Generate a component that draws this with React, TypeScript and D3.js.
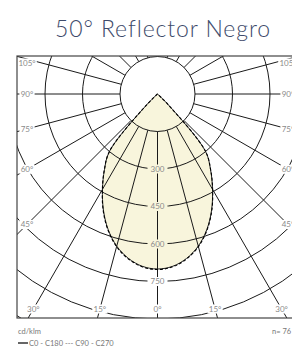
import React from "react";
import * as d3 from "d3";

const TITLE = "50° Reflector Negro";
const GAMMA = [0, 5, 10, 15, 20, 25, 30, 35, 40, 45, 50];
const C0_C180 = [700, 692, 668, 630, 577, 512, 440, 370, 298, 62, 0];
const C90_C270 = [702, 694, 670, 632, 579, 514, 441, 371, 298, 60, 0];
const RING_VALUES = [150, 300, 450, 600, 750, 900, 1050, 1200];
const RING_LABELS = [300, 450, 600, 750];
const RADIAL_ANGLES = d3.range(0, 360, 15);
const ANGLE_LABELS = [0, 15, 30, 45, 60, 75, 90, 105];
const UNIT = "cd/klm";
const N_LABEL = "n= 76";
const LEGEND = "C0 - C180 --- C90 - C270";

const W = 292, H = 351;
const CX = 157.5, CY = 94;
const FRAME = { x0: 17, y0: 56, x1: 306, y1: 318 };
const FILL = "#f8f5dc";
const GRID = "#1a1a1a";
const LABEL = "#8a8a8a";
const FONT = "Lato, 'Open Sans', sans-serif";

const r = d3.scaleLinear().domain([0, 750]).range([0, 187.5]);

function curvePath(vals: number[]) {
  const pts: [number, number][] = [];
  for (let i = GAMMA.length - 1; i >= 0; i--) pts.push([-GAMMA[i], vals[i]]);
  for (let i = 1; i < GAMMA.length; i++) pts.push([GAMMA[i], vals[i]]);
  const line = d3
    .lineRadial<[number, number]>()
    .angle((d) => Math.PI - (d[0] * Math.PI) / 180)
    .radius((d) => r(d[1]))
    .curve(d3.curveCatmullRom.alpha(0.5));
  return line(pts) as string;
}

function labelPos(gDeg: number) {
  const g = (gDeg * Math.PI) / 180;
  const dx = Math.sin(g), dy = Math.cos(g);
  let tx = Infinity, tb = Infinity;
  if (dx < -1e-6) tx = (27 - CX) / dx;
  else if (dx > 1e-6) tx = (288 - CX) / dx;
  if (dy > 1e-6) tb = (309 - CY) / dy;
  const t = Math.min(tx, tb);
  let x = CX + t * dx, y = CY + t * dy;
  y = Math.max(y, 63);
  return [x, y];
}

export default function App() {
  const pathA = curvePath(C0_C180);
  const pathB = curvePath(C90_C270);
  const labels: { x: number; y: number; text: string }[] = [];
  ANGLE_LABELS.forEach((a) => {
    const sides = a === 0 ? [0] : [-a, a];
    sides.forEach((s) => {
      const [x, y] = labelPos(s);
      labels.push({ x, y, text: `${a}°` });
    });
  });
  return (
    <svg
      width={W}
      height={H}
      style={{ position: "absolute", left: 0, top: 0, background: "#fff" }}
    >
      <defs>
        <clipPath id="frame">
          <rect x={FRAME.x0} y={FRAME.y0} width={FRAME.x1 - FRAME.x0} height={FRAME.y1 - FRAME.y0} />
        </clipPath>
      </defs>
      <text
        x={163}
        y={37}
        textAnchor="middle"
        fontFamily={FONT}
        fontWeight={300}
        fontSize={23}
        letterSpacing={0.9}
        fill="#3d4a6a"
      >
        {TITLE}
      </text>
      <g clipPath="url(#frame)">
        <g transform={`translate(${CX},${CY})`}>
          <path d={pathA} fill={FILL} stroke="none" />
          {RADIAL_ANGLES.map((a) => {
            const g = (a * Math.PI) / 180;
            const r0 = r(150), r1 = 400;
            return (
              <line
                key={a}
                x1={r0 * Math.sin(g)}
                y1={r0 * Math.cos(g)}
                x2={r1 * Math.sin(g)}
                y2={r1 * Math.cos(g)}
                stroke={GRID}
                strokeWidth={1}
              />
            );
          })}
          {RING_VALUES.map((v) => (
            <circle key={v} r={r(v)} fill="none" stroke={GRID} strokeWidth={1} />
          ))}
          <path d={pathA} fill="none" stroke="#222" strokeWidth={1} />
          <path d={pathB} fill="none" stroke="#000" strokeWidth={1.1} strokeDasharray="3,2" />
          {RING_LABELS.map((v) => {
            const inside = v < C0_C180[0];
            return (
              <g key={v} transform={`translate(0,${r(v)})`}>
                <rect x={-10} y={-4.5} width={20} height={9} fill={inside ? FILL : "#fff"} />
                <text
                  textAnchor="middle"
                  dy="0.35em"
                  fontFamily={FONT}
                  fontSize={8}
                  fill={LABEL}
                >
                  {v}
                </text>
              </g>
            );
          })}
        </g>
        {labels.map((l, i) => {
          const w = l.text.length * 4.4 + 2;
          return (
            <g key={i} transform={`translate(${l.x},${l.y})`}>
              <rect x={-w / 2} y={-4.5} width={w} height={9} fill="#fff" />
              <text textAnchor="middle" dy="0.35em" fontFamily={FONT} fontSize={8} fill={LABEL}>
                {l.text}
              </text>
            </g>
          );
        })}
      </g>
      <rect
        x={FRAME.x0}
        y={FRAME.y0}
        width={FRAME.x1 - FRAME.x0}
        height={FRAME.y1 - FRAME.y0}
        fill="none"
        stroke="#444"
        strokeWidth={1.2}
      />
      <text x={18} y={334} fontFamily={FONT} fontSize={7.5} fill="#777">
        {UNIT}
      </text>
      <text x={272} y={334} fontFamily={FONT} fontSize={7.5} fill="#777">
        {N_LABEL}
      </text>
      <line x1={18} x2={28} y1={343} y2={343} stroke="#333" strokeWidth={1.5} />
      <text x={29} y={346} fontFamily={FONT} fontSize={7.5} fill="#777">
        {LEGEND}
      </text>
    </svg>
  );
}
